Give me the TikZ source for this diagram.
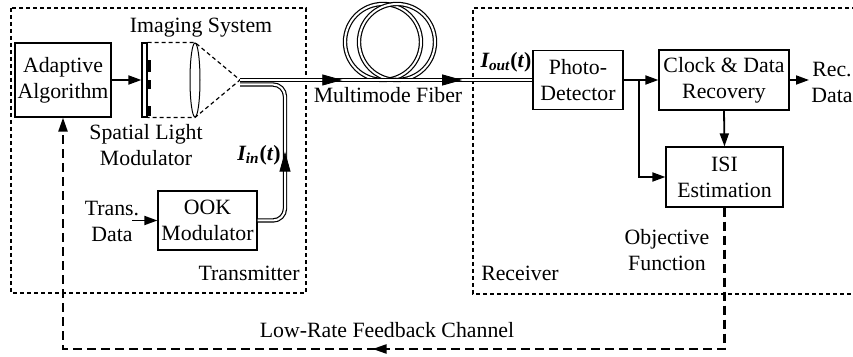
\documentclass[tikz,border=0pt]{standalone}
\usepackage{fontspec}
\setmainfont{Liberation Serif}
\usetikzlibrary{arrows.meta,decorations.markings,shapes.geometric,calc}
\newcommand*{\SlmPixels}[1]{% #1 = list of top/bottom of the pixel bars
  \foreach \ytop/\ybot in {#1} {
    \fill (147,\ytop) rectangle (151,\ybot);
  }%
}

\begin{document}
\begin{tikzpicture}[x=0.5pt,y=-0.5pt,
    font=\rmfamily\fontsize{10.9}{13}\selectfont,
    block/.style={draw, line width=0.6pt, align=center, inner sep=1pt},
    txt/.style={align=center, inner sep=1pt},
    sig/.style={line width=0.9pt, -{Triangle[length=6.5pt,width=4.5pt]}},
    fiber/.style={draw, line width=0.6pt, double, double distance=1pt},
    fibertip/.style={postaction={decorate, decoration={markings,
        mark=at position #1 with {\arrow{Triangle[length=10pt,width=5.5pt]}}}}},
    region/.style={draw, line width=0.6pt, dash pattern=on 2pt off 1.5pt},
    feedback/.style={line width=1.1pt, dash pattern=on 4.5pt off 2.5pt}]
    \useasboundingbox (0,0) rectangle (853,357);

    % transmitter and receiver regions
    \draw[region] (11,8) rectangle (306,293);
    \draw[region] (870,8) -| (473,294) -- (870,294);

    % transmitter side
    \node[block, minimum width=48pt, minimum height=37pt] (aa) at (63,80) {Adaptive\\Algorithm};
    \node[draw, line width=0.6pt, minimum width=2.5pt, minimum height=37pt, inner sep=0pt] (slm) at (144.5,80) {};
    \SlmPixels{60/72, 80/89, 106/116}
    \node[draw, ellipse, line width=0.5pt, minimum width=5pt, minimum height=37pt, inner sep=0pt] (lens) at (195,80) {};
    \coordinate (focal) at (240,80);
    \coordinate (branch) at (240,84.5);
    \draw[region] (slm.north east) -- (lens.north) -- (focal) -- (lens.south) -- (slm.south east);
    \node[block, minimum width=49.5pt, minimum height=29.5pt] (ook) at (207.5,220.5) {OOK\\Modulator};
    \coordinate (tdin) at (132,220.5);

    \node[txt] (imglbl) at (201,28) {Imaging System};
    \node[txt] (slmlbl) at (146,145) {Spatial Light\\Modulator};
    \node[txt] (trans) at (112,221) {Trans.\\Data};
    \node[txt, anchor=east] (txlbl) at (302,273) {Transmitter};
    \node[txt] (iinlbl) at (259,155) {\textbf{\textit{I\textsubscript{in}}(\textit{t})}};

    \draw[sig] (aa.east) -- (slm.west);
    \draw[sig] (tdin) -- (ook.west);

    % fiber
    \draw[fiber] (383,42) circle[radius=38];
    \draw[fiber] (397,42) circle[radius=38];
    \draw[fiber, rounded corners=6pt] (ook.east) -- (285,220.5) -- (285,84.5) -- (branch);
    \path[fibertip=0.46, rounded corners=6pt] (ook.east) -- (285,220.5) -- (285,84.5) -- (branch);
    \node[txt] (mmflbl) at (388,95) {Multimode Fiber};

    % receiver side
    \node[block, minimum width=45pt, minimum height=29.5pt] (pd) at (578,80) {Photo-\\Detector};
    \node[block, minimum width=65pt, minimum height=30pt] (cdr) at (724,80) {Clock \& Data\\Recovery};
    \node[block, minimum width=58.5pt, minimum height=30pt] (isi) at (724.5,177) {ISI\\Estimation};
    \node[txt, anchor=west] (rec) at (809,82) {Rec.\\Data};
    \draw[fiber] (focal) -- (pd.west);
    \path[fibertip=0.35, fibertip=0.76] (focal) -- (pd.west);
    \node[txt] (ioutlbl) at (506,62) {\textbf{\textit{I\textsubscript{out}}(\textit{t})}};
    \node[txt] (rxlbl) at (520,273) {Receiver};
    \node[txt] (objlbl) at (667,250) {Objective\\Function};

    \coordinate (tap) at ($(pd.east)!0.44!(cdr.west)$);
    \draw[sig] (pd.east) -- (cdr.west);
    \draw[sig] (tap) |- (isi.west);
    \draw[sig] (cdr.south) -- (isi.north);
    \draw[sig] (cdr.east) -- (cdr.east -| rec.west);

    % feedback channel
    \coordinate (fbr) at (isi.south |- 0,349);
    \coordinate (fbl) at (aa.south |- 0,349);
    \draw[feedback, -{Triangle[length=7pt,width=4.5pt]},
      postaction={decorate, decoration={markings,
        mark=at position 0.477 with {\arrow{Triangle[length=7pt,width=4.5pt]}}}}]
      (isi.south) -- (fbr) -- (fbl) -- (aa.south);
    \node[txt] (fblbl) at (387,330) {Low-Rate Feedback Channel};
\end{tikzpicture}
\end{document}
